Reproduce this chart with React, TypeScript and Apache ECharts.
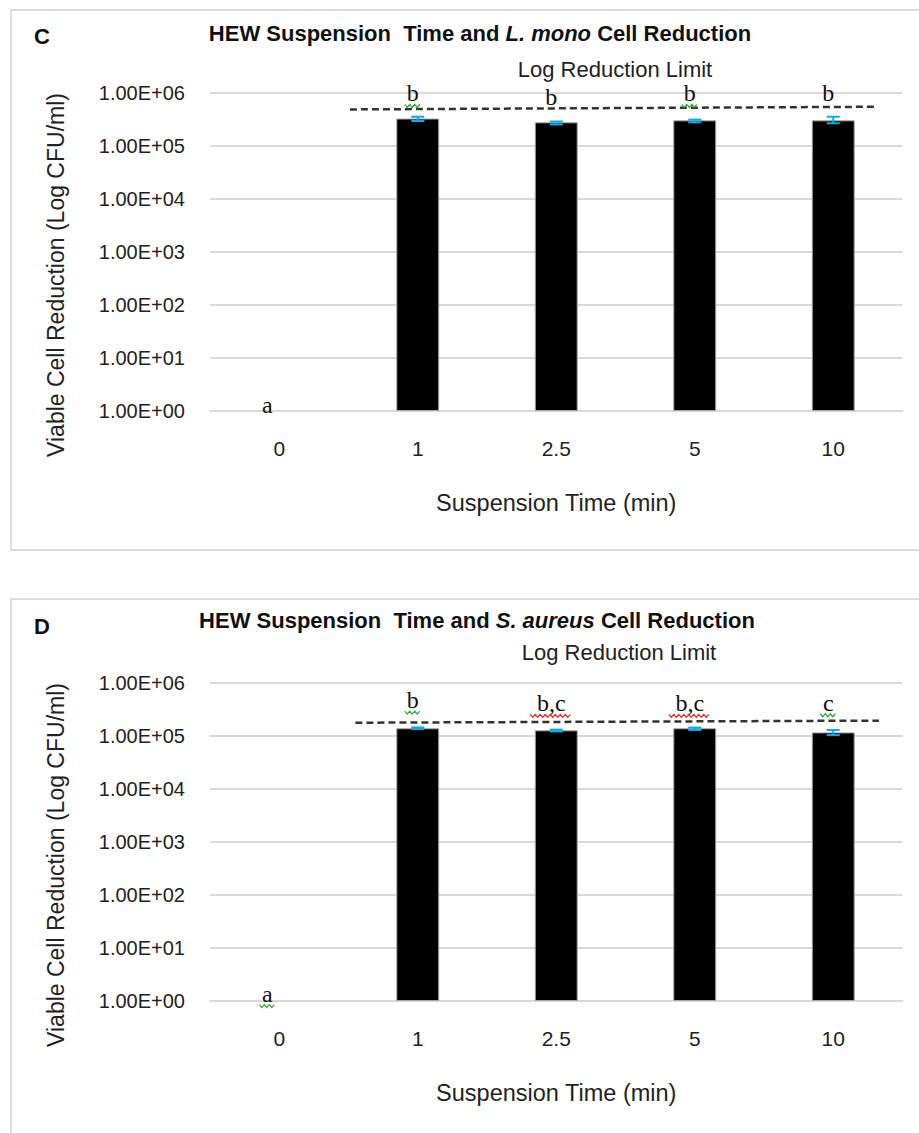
import React, { useEffect, useRef } from "react";
import * as echarts from "echarts";

// ---- data ----
const categories = ["0", "1", "2.5", "5", "10"];
const yTickLabels = ["1.00E+00", "1.00E+01", "1.00E+02", "1.00E+03", "1.00E+04", "1.00E+05", "1.00E+06"];

// Panel C: L. mono
const lmonoValues = [null, 3.3e5, 2.8e5, 3.05e5, 3.05e5];
const lmonoErrHigh = [null, 3.57e5, 2.9e5, 3.15e5, 3.57e5];
const lmonoErrLow = [null, 2.96e5, 2.55e5, 2.8e5, 2.68e5];
const lmonoLetters = ["a", "b", "b", "b", "b"];
const lmonoLetterY = [1.32, 9.8e5, 8.5e5, 9.8e5, 1.01e6];
const lmonoMarks = ["", "green", "", "green", ""];
const lmonoLimitX = [0.51, 4.31];
const lmonoLimitY = [4.9e5, 5.5e5];

// Panel D: S. aureus
const saureusValues = [null, 1.4e5, 1.28e5, 1.4e5, 1.17e5];
const saureusErrHigh = [null, 1.45e5, 1.32e5, 1.44e5, 1.3e5];
const saureusErrLow = [null, 1.35e5, 1.22e5, 1.3e5, 1.04e5];
const saureusLetters = ["a", "b", "b,c", "b,c", "c"];
const saureusLetterY = [1.38, 4.75e5, 4.12e5, 4.12e5, 4.24e5];
const saureusMarks = ["green", "green", "red", "red", "green"];
const saureusLimitX = [0.55, 4.33];
const saureusLimitY = [1.78e5, 1.95e5];

const SANS = "'Liberation Sans', Arial, sans-serif";
const SERIF = "'Liberation Serif', serif";
const GRID_LEFT = 210;
const GRID_W = 692.5;
const GRID_H = 318;
const TOPS = [93, 683];
const markColors: Record<string, string> = { green: "#2ea82e", red: "#ee2222" };

function panelSeries(idx: number, values: any[], hi: any[], lo: any[], letters: string[], letterY: number[], marks: string[], limX: number[], limY: number[]) {
  const errData = values
    .map((v, i) => (v == null ? null : [i, hi[i], lo[i]]))
    .filter((d) => d != null);
  const letterData = letters.map((t, i) => [i, letterY[i], i]);
  return [
    {
      type: "bar",
      xAxisIndex: idx,
      yAxisIndex: idx,
      data: values.map((v) => (v == null ? "-" : v)),
      barWidth: "31%",
      itemStyle: { color: "#000000", borderColor: "#a6a6a6", borderWidth: 1 },
      z: 2,
    },
    {
      type: "custom",
      xAxisIndex: idx,
      yAxisIndex: idx,
      data: errData,
      encode: { x: 0, y: [1, 2] },
      z: 5,
      renderItem: (params: any, api: any) => {
        const i = api.value(0);
        const h = api.coord([i, api.value(1)]);
        const l = api.coord([i, api.value(2)]);
        const st = { stroke: "#0fa9e6", lineWidth: 2 };
        const half = 6.5;
        return {
          type: "group",
          children: [
            { type: "line", shape: { x1: h[0], y1: h[1], x2: l[0], y2: l[1] }, style: st },
            { type: "line", shape: { x1: h[0] - half, y1: h[1], x2: h[0] + half, y2: h[1] }, style: st },
            { type: "line", shape: { x1: l[0] - half, y1: l[1], x2: l[0] + half, y2: l[1] }, style: st },
          ],
        };
      },
    },
    {
      type: "line",
      xAxisIndex: idx + 2,
      yAxisIndex: idx,
      data: limX.map((x, i) => [x, limY[i]]),
      symbol: "none",
      lineStyle: { color: "#333333", width: 2.5, type: [7, 4] },
      z: 4,
    },
    {
      type: "custom",
      xAxisIndex: idx,
      yAxisIndex: idx,
      data: letterData,
      encode: { x: 0, y: 1 },
      z: 6,
      renderItem: (params: any, api: any) => {
        const i = api.value(0);
        const k = api.value(2);
        const text = letters[k];
        const mark = marks[k];
        const p = api.coord([i, api.value(1)]);
        const cx = p[0] - (i === 0 ? 12 : 5);
        const children: any[] = [
          {
            type: "text",
            x: cx,
            y: p[1],
            style: { text, fontFamily: SERIF, fontSize: 24, fill: "#111111", align: "center", verticalAlign: "middle" },
          },
        ];
        if (mark) {
          const color = markColors[mark];
          const w = text.length * 13 + 3;
          const x0 = cx - w / 2;
          const y0 = p[1] + 11;
          const pts: number[][] = [];
          let n = 0;
          for (let x = 0; x <= w + 0.01; x += 2.5) {
            pts.push([x0 + x, y0 + (n % 2 === 0 ? 0 : 3)]);
            n++;
          }
          children.push({ type: "polyline", shape: { points: pts }, style: { stroke: color, lineWidth: 1.2, fill: "none" } });
        }
        return { type: "group", children };
      },
    },
  ];
}

export default function App() {
  const ref = useRef<HTMLDivElement>(null);
  useEffect(() => {
    if (!ref.current) return;
    const chart = echarts.init(ref.current, undefined, { renderer: "svg" });
    const grids = TOPS.map((t) => ({ left: GRID_LEFT, top: t, width: GRID_W, height: GRID_H, containLabel: false }));
    const catAxes = TOPS.map((_, g) => ({
      type: "category",
      gridIndex: g,
      data: categories,
      axisLine: { show: true, lineStyle: { color: "#d9d9d9", width: 2 } },
      axisTick: { show: false },
      axisLabel: { fontFamily: SANS, fontSize: 21, color: "#222", margin: 27 },
      name: "Suspension Time (min)",
      nameLocation: "middle",
      nameGap: 80,
      nameTextStyle: { fontFamily: SANS, fontSize: 23.5, color: "#222" },
    }));
    const valAxes = TOPS.map((_, g) => ({
      type: "value",
      gridIndex: g,
      min: -0.5,
      max: 4.5,
      show: false,
    }));
    const yAxes = TOPS.map((_, g) => ({
      type: "log",
      gridIndex: g,
      logBase: 10,
      min: 1,
      max: 1e6,
      interval: 1,
      axisLine: { show: false },
      axisTick: { show: false },
      splitLine: { show: true, lineStyle: { color: "#d9d9d9", width: 2 } },
      axisLabel: {
        fontFamily: SANS,
        fontSize: 20,
        color: "#222",
        margin: 25,
        formatter: (v: number) => yTickLabels[Math.round(Math.log10(v))] ?? "",
      },
    }));
    const titleRich = (italic: string) => ({
      text: `{b|HEW Suspension  Time and }{i|${italic}}{b| Cell Reduction}`,
      rich: {
        b: { fontFamily: SANS, fontWeight: "bold", fontSize: 22, fill: "#111" },
        i: { fontFamily: SANS, fontWeight: "bold", fontStyle: "italic", fontSize: 22, fill: "#111" },
      },
    });
    const yTitle = "Viable Cell Reduction (Log CFU/ml)";
    const graphic: any[] = [
      { type: "rect", shape: { x: 11, y: 10, width: 940, height: 540 }, style: { fill: "none", stroke: "#dddddd", lineWidth: 2 }, silent: true },
      { type: "rect", shape: { x: 11, y: 599, width: 940, height: 560 }, style: { fill: "none", stroke: "#dddddd", lineWidth: 2 }, silent: true },
      { type: "text", x: 42, y: 36, style: { text: "C", fontFamily: SANS, fontWeight: "bold", fontSize: 22, fill: "#111", align: "center", verticalAlign: "middle" } },
      { type: "text", x: 42, y: 626, style: { text: "D", fontFamily: SANS, fontWeight: "bold", fontSize: 22, fill: "#111", align: "center", verticalAlign: "middle" } },
      { type: "text", x: 480, y: 33, style: { ...titleRich("L. mono"), align: "center", verticalAlign: "middle" } },
      { type: "text", x: 477, y: 620, style: { ...titleRich("S. aureus"), align: "center", verticalAlign: "middle" } },
      { type: "text", x: 615, y: 69, style: { text: "Log Reduction Limit", fontFamily: SANS, fontSize: 22, fill: "#222", align: "center", verticalAlign: "middle" } },
      { type: "text", x: 619, y: 652, style: { text: "Log Reduction Limit", fontFamily: SANS, fontSize: 22, fill: "#222", align: "center", verticalAlign: "middle" } },
      { type: "text", x: 56, y: 275, rotation: Math.PI / 2, style: { text: yTitle, fontFamily: SANS, fontSize: 23, fill: "#222", align: "center", verticalAlign: "middle" } },
      { type: "text", x: 56, y: 865, rotation: Math.PI / 2, style: { text: yTitle, fontFamily: SANS, fontSize: 23, fill: "#222", align: "center", verticalAlign: "middle" } },
    ];
    chart.setOption({
      animation: false,
      backgroundColor: "#ffffff",
      grid: grids,
      xAxis: [...catAxes, ...valAxes],
      yAxis: yAxes,
      graphic,
      series: [
        ...panelSeries(0, lmonoValues, lmonoErrHigh, lmonoErrLow, lmonoLetters, lmonoLetterY, lmonoMarks, lmonoLimitX, lmonoLimitY),
        ...panelSeries(1, saureusValues, saureusErrHigh, saureusErrLow, saureusLetters, saureusLetterY, saureusMarks, saureusLimitX, saureusLimitY),
      ],
    });
    return () => chart.dispose();
  }, []);
  return <div ref={ref} style={{ position: "absolute", left: 0, top: 0, width: 919, height: 1133 }} />;
}
